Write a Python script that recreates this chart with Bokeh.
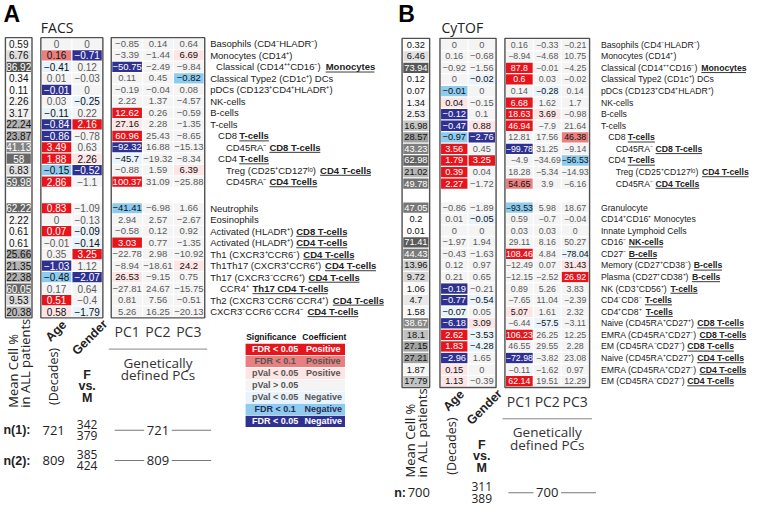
import numpy as np
from bokeh.plotting import figure
from bokeh.models import Range1d
from bokeh.embed import file_html
from bokeh.resources import INLINE
from bokeh.core.properties import value

# ======================= DATA =======================
SPLIT = 13  # rows in the first block (a blank gap follows)

A_LABELS = [
    "Basophils (CD4⁻HLADR⁻)", "Monocytes (CD14⁺)", "Classical (CD14⁺⁺CD16⁻) |Monocytes",
    "Classical Type2 (CD1c⁺) DCs", "pDCs (CD123⁺CD4⁺HLADR⁺)", "NK-cells", "B-cells", "T-cells",
    "CD8 |T-cells", "CD45RA⁻ |CD8 T-cells", "CD4 |T-cells", "Treg (CD25⁺CD127ˡᵒ) |CD4 T-cells",
    "CD45RA⁻ |CD4 Tcells",
    "Neutrophils", "Eosinophils", "Activated (HLADR⁺) |CD8 T-cells", "Activated (HLADR⁺) |CD4 T-cells",
    "Th1 (CXCR3⁺CCR6⁻) |CD4 T-cells", "Th1Th17 (CXCR3⁺CCR6⁺) |CD4 T-cells",
    "Th17 (CXCR3⁻CCR6⁺) |CD4 T-cells", "CCR4⁺ |Th17 CD4 T-cells",
    "Th2 (CXCR3⁻CCR6⁻CCR4⁺) |CD4 T-cells", "CXCR3⁻CCR6⁻CCR4⁻ |CD4 T-cells",
]
A_INDENT = [0, 0, 0.75, 0, 0, 0, 0, 0, 1, 2, 1, 2, 2, 0, 0, 0, 0, 0, 0, 0, 1.25, 0, 0]
A_MEAN = [0.59, 6.76, 86.92, 0.34, 0.11, 2.26, 3.17, 22.24, 23.87, 41.13, 58, 6.83, 59.98,
          62.22, 2.22, 0.61, 0.61, 25.66, 21.35, 22.38, 60.05, 9.53, 20.38]
A_AGE = [0, 0.16, -0.41, 0.01, -0.01, 0.03, -0.11, -0.84, -0.86, 3.49, 1.88, -0.15, 2.86,
         0.83, 0, 0.07, -0.01, 0.35, -1.03, -0.48, 0.17, 0.51, 0.58]
A_AGE_SIG = [0, 2, 1, 0, 3, 0, 1, 3, 3, 3, 3, 2, 3,
             3, 0, 3, 0, 0, 3, 2, 0, 3, 1]
A_GENDER = [0, -0.71, 0.12, -0.03, 0, -0.25, 0.22, 2.16, -0.78, 0.63, 2.26, -0.52, -1.1,
            -1.09, -0.13, -0.09, -0.14, 3.25, 1.12, -2.07, 0.64, -0.4, -1.79]
A_GENDER_SIG = [0, 3, 0, 0, 0, 1, 0, 3, 0, 0, 1, 3, 0,
                0, 0, 1, 1, 3, 0, 3, 0, 0, 1]
A_PC1 = [-0.85, -3.39, -50.75, 0.11, -0.19, 2.22, 12.62, 27.16, 60.96, -92.32, -45.7, -0.88, 100.37,
         -41.41, 2.94, -0.58, 3.03, -22.78, -8.94, 26.53, -27.81, 0.81, 5.26]
A_PC1_SIG = [0, 0, 3, 0, 0, 0, 3, 1, 3, 3, 1, 0, 3,
             2, 0, 0, 3, 0, 0, 1, 0, 0, 0]
A_PC2 = [0.14, -1.44, -2.49, 0.45, -0.04, 1.37, 0.26, 2.28, 25.43, 16.88, -19.32, 1.59, 31.09,
         -6.98, 2.57, 0.12, 0.77, 2.98, -18.61, -9.15, 24.67, 7.56, 16.25]
A_PC2_SIG = [0] * 23
A_PC3 = [0.64, 6.69, -9.84, -0.82, 0.08, -4.57, -0.59, -1.35, -8.65, -15.13, -8.34, 6.39, -25.88,
         1.66, -2.67, 0.92, -1.35, -10.92, 24.2, 0.75, -15.75, -0.51, -20.13]
A_PC3_SIG = [0, 1, 0, 2, 0, 0, 0, 0, 0, 0, 0, 1, 0,
             0, 0, 0, 0, 0, 1, 0, 0, 0, 0]
A_N1 = ["721", "342", "379", "721"]
A_N2 = ["809", "385", "424", "809"]

B_LABELS = [
    "Basophils (CD4⁻HLADR⁻)", "Monocytes (CD14⁺)", "Classical (CD14⁺⁺CD16⁻) |Monocytes",
    "Classical Type2 (CD1c⁺) DCs", "pDCs (CD123⁺CD4⁺HLADR⁺)", "NK-cells", "B-cells", "T-cells",
    "CD8 |T-cells", "CD45RA⁻ |CD8 T-cells", "CD4 |T-cells", "Treg (CD25⁺CD127ˡᵒ) |CD4 T-cells",
    "CD45RA⁻ |CD4 Tcells",
    "Granulocyte", "CD14⁺CD16⁺ Monocytes", "Innate Lymphoid Cells", "CD16⁻ |NK-cells",
    "CD27⁻ |B-cells", "Memory (CD27⁺CD38⁻) |B-cells", "Plasma (CD27⁺CD38⁺) |B-cells",
    "NK (CD3⁺CD56⁺) |T-cells", "CD4⁻CD8⁻ |T-cells", "CD4⁺CD8⁺ |T-cells",
    "Naive (CD45RA⁺CD27⁺) |CD8 T-cells", "EMRA (CD45RA⁺CD27⁻) |CD8 T-cells",
    "EM (CD45RA⁻CD27⁻) |CD8 T-cells", "Naive (CD45RA⁺CD27⁺) |CD4 T-cells",
    "EMRA (CD45RA⁺CD27⁻) |CD4 T-cells", "EM (CD45RA⁻CD27⁻) |CD4 T-cells",
]
B_INDENT = [0, 0, 0, 0, 0, 0, 0, 0, 1, 2, 1, 2, 2] + [0] * 16
B_MEAN = [0.32, 6.46, 73.94, 0.12, 0.07, 1.34, 2.53, 16.98, 28.57, 43.23, 62.98, 21.02, 49.78,
          47.05, 0.2, 0.01, 71.41, 44.43, 13.96, 9.72, 1.06, 4.7, 1.58, 38.67, 18.1, 27.15, 27.21, 1.87, 17.79]
B_AGE = [0, 0.16, -0.92, 0, -0.01, 0.04, -0.12, -0.47, -0.97, 3.56, 1.79, 0.39, 2.27,
         -0.86, 0.01, 0, -1.97, -0.43, 0.12, 0.21, -0.19, -0.77, -0.07, -6.18, 2.62, 1.83, -2.96, 0.15, 1.13]
B_AGE_SIG = [0, 0, 0, 0, 2, 1, 3, 3, 2, 3, 3, 3, 3,
             0, 0, 0, 0, 0, 0, 0, 3, 3, 1, 3, 3, 3, 3, 1, 1]
B_GENDER = [0, -0.68, -1.56, -0.02, 0, -0.15, 0.1, 0.88, -2.76, 0.45, 3.25, 0.04, -1.72,
            -1.89, -0.05, 0, 1.94, -1.63, 0.97, 0.65, -0.21, -0.54, 0.05, 3.09, -3.53, -4.28, 1.65, 0, -0.39]
B_GENDER_SIG = [0, 0, 0, 1, 0, 0, 0, 1, 3, 0, 3, 0, 0,
                0, 1, 0, 0, 0, 0, 0, 0, 1, 0, 1, 1, 1, 0, 0, 0]
B_PC1 = [0.16, -8.94, 87.8, 0.6, 0.14, 6.68, 18.63, 46.94, 12.81, -99.78, -4.9, 18.28, 54.65,
         -93.53, 0.59, 0.03, 29.11, 108.46, -12.49, -12.15, 0.89, -7.65, 5.07, -6.44, 106.23, 46.55, -72.98, -0.11, 62.14]
B_PC1_SIG = [0, 0, 3, 3, 0, 3, 3, 3, 0, 3, 0, 0, 2,
             2, 0, 0, 0, 3, 0, 0, 0, 0, 1, 0, 3, 0, 3, 0, 3]
B_PC2 = [-0.33, -4.68, -0.01, 0.03, -0.28, 1.62, 3.69, -7.9, 17.56, 31.25, -34.69, -5.34, 3.9,
         5.98, -0.7, 0.03, 8.16, 4.84, 0.07, -2.52, 5.26, 11.04, 1.61, -57.5, 26.25, 29.55, -3.82, -1.62, 19.51]
B_PC2_SIG = [0, 0, 0, 0, 1, 0, 1, 0, 0, 0, 0, 0, 0,
             0, 0, 0, 0, 0, 0, 0, 0, 0, 0, 1, 0, 0, 0, 0, 0]
B_PC3 = [-0.21, 10.75, -4.25, -0.02, 0.14, 1.7, -0.98, 21.64, 46.38, -9.14, -56.53, -14.93, -6.16,
         18.67, -0.04, 0, 50.27, -78.04, 31.43, 26.92, 3.83, -2.39, 2.32, -3.11, 12.25, 2.28, 23.08, 0.97, 12.29]
B_PC3_SIG = [0, 0, 0, 0, 0, 0, 0, 0, 2, 0, 2, 0, 0,
             0, 0, 0, 0, 1, 1, 3, 0, 0, 0, 0, 0, 0, 0, 0, 0]
B_N = ["700", "311", "389", "700"]

PC_NAMES = ["PC1", "PC2", "PC3"]
LEGEND_SIG = ["FDR < 0.05", "FDR < 0.1", "pVal < 0.05", "pVal > 0.05", "pVal < 0.05", "FDR < 0.1", "FDR < 0.05"]
LEGEND_COEF = ["Positive", "Positive", "Positive", "", "Negative", "Negative", "Negative"]
LEGEND_LEVEL = [3, 2, 1, 0, -1, -2, -3]

# ======================= STYLE =======================
SANS = value("Liberation Sans")
OPEN = value("Open Sans")
POS = {3: "#e8141c", 2: "#e88080", 1: "#fde5e5"}
NEG = {3: "#2e3192", 2: "#8dcbef", 1: "#e8f3fb"}
NS = "#f4f4f4"
BOX = "#505050"
TXT = "#222222"

_PL_LOW = [278, 556, 556, 500, 556, 556, 278, 556, 556, 222, 222, 500, 222, 833, 556, 556, 556, 556,
           333, 500, 278, 556, 500, 722, 500, 500, 500]
_PL_UP = [667, 667, 722, 722, 667, 611, 778, 722, 278, 500, 667, 556, 833, 722, 778, 667, 778, 722,
          667, 611, 722, 667, 944, 667, 667, 611]
_BD_LOW = [278, 556, 611, 556, 611, 556, 333, 611, 611, 278, 278, 556, 278, 889, 611, 611, 611, 611,
           389, 556, 333, 611, 556, 778, 556, 556, 500]
_BD_UP = [722, 722, 722, 722, 667, 611, 778, 722, 278, 556, 722, 611, 833, 722, 778, 667, 778, 722,
          667, 611, 722, 667, 944, 667, 667, 611]
LOW = " abcdefghijklmnopqrstuvwxyz"
UP = "ABCDEFGHIJKLMNOPQRSTUVWXYZ"


def _table(low, up):
    t = dict(zip(LOW, low))
    t.update(zip(UP, up))
    t.update({d: 556 for d in "0123456789"})
    t.update({"(": 333, ")": 333, "-": 333, ".": 278, "⁺": 480, "⁻": 430, "ˡ": 260, "ᵒ": 390})
    return t


W_PL = _table(_PL_LOW, _PL_UP)
W_BD = _table(_BD_LOW, _BD_UP)


def tw(s, size, bold=False):
    t = W_BD if bold else W_PL
    return sum(t.get(c, 556) for c in s) * size / 1000.0


def fmt(v):
    return f"{v:g}".replace("-", "−")


def cell_color(v, s):
    if s == 0:
        return NS
    return POS[s] if v >= 0 else NEG[s]


def cell_text_color(s):
    return "white" if s == 3 else ("#5a5a5a" if s == 0 else "#111111")


def gray(v):
    g = int(np.interp(v, [0, 3, 7, 15, 25, 45, 65, 90], [255, 240, 222, 205, 168, 122, 96, 76]))
    return "#%02x%02x%02x" % (g, g, g)


# the reference frame (766 x 519) is mapped onto the 750 x 503 plot area
p = figure(width=750, height=503, x_range=Range1d(2, 764), y_range=Range1d(518, 3),
           output_backend="svg", toolbar_location=None, x_axis_type=None, y_axis_type=None,
           min_border=0, outline_line_color=None, background_fill_color="white")
p.grid.visible = False


def draw_panel(cfg, labels, indent, mean, cols, ns):
    n = len(mean)
    pitch = cfg["pitch"]
    ys = [cfg["y0"] + i * pitch if i < SPLIT else cfg["y0b"] + (i - SPLIT) * pitch for i in range(n)]
    top = ys[0] - pitch / 2 - 0.6
    bot = ys[-1] + pitch / 2 + 0.6
    hh = pitch / 2 - 0.65

    # mean column
    m0, m1 = cfg["x_mean"]
    p.quad(left=m0 + 1.2, right=m1 - 1.2, top=[y - hh for y in ys], bottom=[y + hh for y in ys],
           fill_color=[gray(v) for v in mean], line_color=None)
    p.text(x=(m0 + m1) / 2, y=ys, text=[fmt(v) for v in mean], text_font=SANS,
           text_font_size=cfg["side_size"], text_align="center", text_baseline="middle",
           text_color=["white" if v > 30 else "#111111" for v in mean])

    # coloured coefficient columns
    for vals, sig, (c0, c1), size in cols:
        p.quad(left=c0 + 0.6, right=c1 - 0.6, top=[y - hh for y in ys], bottom=[y + hh for y in ys],
               fill_color=[cell_color(v, s) for v, s in zip(vals, sig)], line_color=None)
        p.text(x=(c0 + c1) / 2, y=ys, text=[fmt(v) for v in vals], text_font=SANS,
               text_font_size=size, text_align="center", text_baseline="middle",
               text_color=[cell_text_color(s) for s in sig])

    # boxes
    a0 = cfg["x_age"][0]
    g1 = cfg["x_gen"][1]
    q0, q1 = cfg["x_pc"]
    p.quad(left=[m0, a0 - 0.5, q0 - 0.5], right=[m1, g1 + 0.5, q1 + 0.5], top=top, bottom=bot,
           fill_color=None, line_color=BOX, line_width=1.4)

    # row labels
    ls = cfg["label_size"]
    px, py, pt, bx, by, bt, ux0, ux1, uy = [], [], [], [], [], [], [], [], []
    for lab, ind, y in zip(labels, indent, ys):
        x = cfg["label_x"] + ind * cfg["indent_step"]
        parts = lab.split("|")
        px.append(x); py.append(y); pt.append(parts[0])
        if len(parts) > 1:
            xb = x + tw(parts[0], ls)
            bx.append(xb); by.append(y); bt.append(parts[1])
            ux0.append(xb); ux1.append(xb + tw(parts[1], ls, True)); uy.append(y + ls * 0.55)
    fs = f"{ls}px"
    p.text(x=px, y=py, text=pt, text_font=SANS, text_font_size=fs, text_align="left",
           text_baseline="middle", text_color=TXT)
    p.text(x=bx, y=by, text=bt, text_font=SANS, text_font_size=fs, text_font_style="bold",
           text_align="left", text_baseline="middle", text_color=TXT)
    p.segment(x0=ux0, y0=uy, x1=ux1, y1=uy, line_color=TXT, line_width=0.9)

    # headings
    p.text(x=[cfg["letter_x"]], y=[17], text=[cfg["letter"]], text_font=SANS, text_font_size="23px",
           text_font_style="bold", text_align="left", text_baseline="middle", text_color="black")
    p.text(x=[cfg["title_x"]], y=[31], text=[cfg["title"]], text_font=OPEN, text_font_size="14px",
           text_align="left", text_baseline="middle", text_color=TXT)

    # bottom annotations
    mc = (m0 + m1) / 2
    ac = sum(cfg["x_age"]) / 2
    gc = sum(cfg["x_gen"]) / 2
    pw = (q1 - q0) / 3
    pcs = [q0 + pw * (k + 0.5) for k in range(3)]
    pm = (q0 + q1) / 2
    p.text(x=pcs, y=bot + 14, text=PC_NAMES, text_font=OPEN, text_font_size="14px",
           text_align="center", text_baseline="middle", text_color="#333333")
    p.segment(x0=[q0 - 3], y0=[bot + 32], x1=[q1 + 3], y1=[bot + 32], line_color="#888888", line_width=1)
    p.text(x=[pm, pm], y=[bot + 46, bot + 59], text=["Genetically", "defined PCs"], text_font=OPEN,
           text_font_size="13.5px", text_align="center", text_baseline="middle", text_color="#333333")
    p.text(x=[mc - 5.5, mc + 6.5], y=[bot + 92, bot + 92], text=["Mean Cell %", "in ALL patients"],
           text_font=OPEN, text_font_size="13px", angle=np.pi / 2, text_align="left",
           text_baseline="middle", text_color="#222222")
    p.text(x=[ac - 9], y=[bot + 22], text=["Age"], text_font=SANS, text_font_size="12.5px",
           text_font_style="bold", angle=np.pi / 4, text_align="left", text_baseline="middle",
           text_color="#222222")
    p.text(x=[gc - 13], y=[bot + 36], text=["Gender"], text_font=SANS, text_font_size="12.5px",
           text_font_style="bold", angle=np.pi / 4, text_align="left", text_baseline="middle",
           text_color="#222222")
    p.text(x=[ac - 3], y=[bot + 60], text=["(Decades)"], text_font=OPEN, text_font_size="12.5px",
           angle=np.pi / 2, text_align="center", text_baseline="middle", text_color="#222222")
    p.text(x=[gc] * 3, y=[bot + 59, bot + 70, bot + 82], text=["F", "vs.", "M"], text_font=SANS,
           text_font_size="12.5px", text_font_style="bold", text_align="center",
           text_baseline="middle", text_color="#222222")

    # sample size rows
    for (tag, tag_x, first_x, y), nn in ns:
        p.text(x=[tag_x], y=[y], text=[tag], text_font=SANS, text_font_size="12.5px",
               text_font_style="bold", text_align="left", text_baseline="middle", text_color="#222222")
        p.text(x=[first_x, pm], y=[y, y], text=[nn[0], nn[3]], text_font=OPEN, text_font_size="13px",
               text_align="center", text_baseline="middle", text_color="#222222")
        p.text(x=[gc, gc], y=[y - 6, y + 5.5], text=[nn[1], nn[2]], text_font=OPEN,
               text_font_size="12px", text_align="center", text_baseline="middle", text_color="#222222")
        p.segment(x0=[q0 + 3, pm + 14], y0=[y, y], x1=[pm - 14, q1 + 7], y1=[y, y],
                  line_color="#777777", line_width=1)


CFG_A = dict(x_mean=(7, 34), x_age=(43.5, 74.5), x_gen=(74.5, 105.5), x_pc=(115, 209),
             label_x=215, indent_step=8, y0=47.5, y0b=215.7, pitch=11.75, label_size=9.5,
             side_size="10px", letter="A", letter_x=5, title="FACS", title_x=43)
CFG_B = dict(x_mean=(410, 438), x_age=(449, 477), x_gen=(477, 505), x_pc=(515, 600),
             label_x=612, indent_step=7.5, y0=48.3, y0b=215, pitch=11.85, label_size=8.7,
             side_size="9.3px", letter="B", letter_x=406, title="CyTOF", title_x=450)

draw_panel(CFG_A, A_LABELS, A_INDENT, A_MEAN,
           [(A_AGE, A_AGE_SIG, CFG_A["x_age"], "10px"), (A_GENDER, A_GENDER_SIG, CFG_A["x_gen"], "10px"),
            (A_PC1, A_PC1_SIG, (115, 146.3), "9.5px"), (A_PC2, A_PC2_SIG, (146.3, 177.7), "9.5px"),
            (A_PC3, A_PC3_SIG, (177.7, 209), "9.5px")],
           [(("n(1):", 5, 56, 443), A_N1), (("n(2):", 5, 56, 474), A_N2)])
draw_panel(CFG_B, B_LABELS, B_INDENT, B_MEAN,
           [(B_AGE, B_AGE_SIG, CFG_B["x_age"], "9.3px"), (B_GENDER, B_GENDER_SIG, CFG_B["x_gen"], "9.3px"),
            (B_PC1, B_PC1_SIG, (515, 543.3), "8.8px"), (B_PC2, B_PC2_SIG, (543.3, 571.7), "8.8px"),
            (B_PC3, B_PC3_SIG, (571.7, 600), "8.8px")],
           [(("n:", 402, 427, 507), B_N)])

# legend
LX0, LX1, LY0, LP = 251, 352, 354, 12.3
ly = [LY0 + LP * (k + 0.5) for k in range(len(LEGEND_SIG))]
lfill = [NS if l == 0 else (POS[l] if l > 0 else NEG[-l]) for l in LEGEND_LEVEL]
p.quad(left=LX0, right=LX1, top=[y - LP / 2 + 0.4 for y in ly], bottom=[y + LP / 2 - 0.4 for y in ly],
       fill_color=lfill, line_color=None)
ltc = ["white" if abs(l) == 3 else ("#2b2b55" if l == -2 else "#555555") for l in LEGEND_LEVEL]
p.text(x=[281] * 7, y=ly, text=LEGEND_SIG, text_font=SANS, text_font_size="9px", text_font_style="bold",
       text_align="center", text_baseline="middle", text_color=ltc)
p.text(x=[330] * 7, y=ly, text=LEGEND_COEF, text_font=SANS, text_font_size="9px", text_font_style="bold",
       text_align="center", text_baseline="middle", text_color=ltc)
p.text(x=[277, 331], y=[347.5, 347.5], text=["Significance", "Coefficient"], text_font=SANS,
       text_font_size="8.5px", text_font_style="bold", text_align="center", text_baseline="middle",
       text_color="#111111")

open("out.html", "w").write(file_html(p, INLINE))
